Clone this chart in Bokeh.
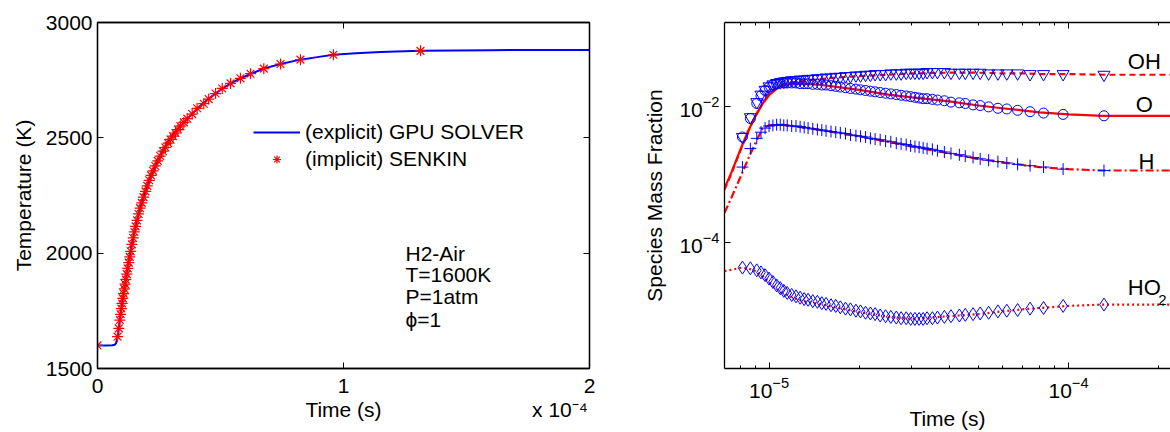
import numpy as np
from bokeh.plotting import figure
from bokeh.layouts import row
from bokeh.models import (Range1d, FixedTicker, LinearAxis, LogAxis, Label,
                          Legend, LegendItem)
from bokeh.embed import file_html
from bokeh.resources import INLINE

FONT = "Liberation Sans"
RED = "#ff0000"
BLUE = "#0000ff"

# ---------------------------------------------------------------------------
# H2-air ignition, T0 = 1600 K, P = 1 atm, phi = 1
# ---------------------------------------------------------------------------

# Temperature history from the explicit GPU solver
gpu_time_s = [0.0, 2e-6, 4e-6, 6e-6, 7e-6, 7.5e-6, 8e-6, 8.5e-6, 9e-6, 9.35e-6,
              1.0e-5, 1.07e-5, 1.13e-5, 1.2e-5, 1.3e-5, 1.41e-5, 1.54e-5, 1.67e-5,
              1.85e-5, 2.03e-5, 2.24e-5, 2.44e-5, 2.64e-5, 2.84e-5, 3.1e-5, 3.37e-5,
              3.65e-5, 3.9e-5, 4.2e-5, 4.47e-5, 4.8e-5, 5.12e-5, 5.45e-5, 5.81e-5,
              6.3e-5, 6.75e-5, 7.44e-5, 8.25e-5, 9.0e-5, 9.59e-5, 1.05e-4, 1.15e-4,
              1.313e-4, 1.45e-4, 1.6e-4, 1.8e-4, 2.0e-4]
gpu_temp_K = [1600, 1600, 1600, 1601, 1603, 1609, 1628, 1662, 1703, 1733,
              1782, 1832, 1873, 1915, 1978, 2044, 2112, 2170,
              2240, 2297, 2352, 2398, 2442, 2481, 2520, 2551,
              2582, 2610, 2640, 2665, 2692, 2716, 2738, 2758,
              2780, 2800, 2820, 2839, 2851, 2860, 2867, 2872,
              2877, 2879, 2880, 2881, 2881]

# SENKIN output times (shared by the temperature and species markers)
senkin_time_s = [0.0, 8.15e-6, 8.66e-6, 9.10e-6, 9.40e-6, 9.70e-6, 1.00e-5, 1.03e-5,
                 1.06e-5, 1.09e-5, 1.12e-5, 1.15e-5, 1.19e-5, 1.23e-5, 1.27e-5,
                 1.31e-5, 1.35e-5, 1.40e-5, 1.45e-5, 1.50e-5, 1.55e-5, 1.61e-5,
                 1.67e-5, 1.73e-5, 1.80e-5, 1.87e-5, 1.95e-5, 2.02e-5, 2.10e-5,
                 2.18e-5, 2.26e-5, 2.35e-5, 2.45e-5, 2.55e-5, 2.66e-5, 2.76e-5,
                 2.87e-5, 2.97e-5, 3.07e-5, 3.17e-5, 3.27e-5, 3.37e-5, 3.51e-5,
                 3.65e-5, 3.85e-5, 4.05e-5, 4.32e-5, 4.52e-5, 4.80e-5, 5.07e-5,
                 5.41e-5, 5.81e-5, 6.22e-5, 6.76e-5, 7.44e-5, 8.25e-5, 9.59e-5,
                 1.313e-4]
senkin_temp_K = [1600, 1638, 1674, 1710, 1735, 1760, 1782, 1804,
                 1825, 1845, 1866, 1886, 1909, 1934, 1959,
                 1984, 2008, 2038, 2066, 2092, 2116, 2142,
                 2170, 2195, 2218, 2243, 2268, 2292, 2316,
                 2337, 2357, 2378, 2400, 2421, 2442, 2458,
                 2477, 2493, 2507, 2521, 2536, 2551, 2567,
                 2583, 2603, 2628, 2648, 2668, 2692, 2714,
                 2736, 2758, 2778, 2800, 2820, 2839, 2860,
                 2877]

# Species mass fractions, stored as log10(Y)
# continuous curves
species_time_s = [7.1e-6, 7.5e-6, 8.0e-6, 8.5e-6, 9.0e-6, 9.5e-6, 1.0e-5, 1.05e-5,
                  1.1e-5, 1.2e-5, 1.3e-5, 1.5e-5, 1.7e-5, 2.0e-5, 2.5e-5, 3.0e-5,
                  4.0e-5, 5.0e-5, 6.0e-5, 7.0e-5, 8.0e-5, 1.0e-4, 1.3e-4, 1.6e-4,
                  2.0e-4, 2.2e-4]
oh_curve = [-3.22, -2.98, -2.66, -2.38, -2.14, -1.96, -1.82, -1.74, -1.69, -1.65,
            -1.63, -1.60, -1.58, -1.56, -1.54, -1.52, -1.51, -1.51, -1.52, -1.52,
            -1.53, -1.53, -1.54, -1.54, -1.54, -1.54]
o_curve = [-3.20, -2.96, -2.65, -2.37, -2.15, -1.97, -1.84, -1.76, -1.70, -1.67,
           -1.67, -1.69, -1.72, -1.76, -1.83, -1.87, -1.93, -1.99, -2.03, -2.06,
           -2.09, -2.12, -2.14, -2.14, -2.14, -2.14]
h_curve = [-3.56, -3.33, -3.05, -2.78, -2.54, -2.33, -2.28, -2.27, -2.27, -2.29,
           -2.31, -2.35, -2.39, -2.44, -2.52, -2.59, -2.69, -2.77, -2.82, -2.86,
           -2.89, -2.92, -2.94, -2.94, -2.94, -2.94]
ho2_curve = [-4.41, -4.39, -4.365, -4.37, -4.41, -4.48, -4.57, -4.66, -4.72, -4.80,
             -4.85, -4.90, -4.95, -5.01, -5.08, -5.11, -5.07, -5.04, -5.00, -4.97,
             -4.95, -4.92, -4.90, -4.90, -4.90, -4.90]

# values at the SENKIN output times (all but t = 0)
oh_points = [-2.45, -2.16, -1.94, -1.83, -1.76, -1.71, -1.68, -1.66, -1.65, -1.64,
             -1.63, -1.62, -1.62, -1.61, -1.61, -1.60, -1.60, -1.59, -1.59, -1.58,
             -1.58, -1.57, -1.57, -1.56, -1.56, -1.55, -1.55, -1.54, -1.54, -1.53,
             -1.53, -1.53, -1.52, -1.52, -1.52, -1.51, -1.51, -1.51, -1.51, -1.51,
             -1.50, -1.50, -1.50, -1.50, -1.51, -1.51, -1.51, -1.51, -1.51, -1.52,
             -1.52, -1.52, -1.52, -1.53, -1.53, -1.53, -1.54]
o_points = [-2.45, -2.18, -1.96, -1.85, -1.77, -1.72, -1.69, -1.67, -1.66, -1.66,
            -1.66, -1.66, -1.66, -1.67, -1.67, -1.67, -1.68, -1.68, -1.69, -1.69,
            -1.70, -1.71, -1.72, -1.73, -1.74, -1.75, -1.76, -1.77, -1.78, -1.79,
            -1.80, -1.81, -1.82, -1.83, -1.84, -1.85, -1.86, -1.87, -1.88, -1.89,
            -1.89, -1.90, -1.91, -1.92, -1.94, -1.95, -1.96, -1.98, -1.99, -2.01,
            -2.03, -2.04, -2.06, -2.08, -2.10, -2.12, -2.14]
h_points = [-2.89, -2.62, -2.47, -2.38, -2.32, -2.29, -2.28, -2.27, -2.27, -2.28,
            -2.28, -2.29, -2.29, -2.30, -2.31, -2.32, -2.33, -2.34, -2.35, -2.36,
            -2.37, -2.38, -2.39, -2.40, -2.42, -2.43, -2.44, -2.45, -2.47, -2.48,
            -2.49, -2.51, -2.52, -2.54, -2.55, -2.56, -2.58, -2.59, -2.60, -2.61,
            -2.62, -2.63, -2.65, -2.67, -2.69, -2.71, -2.73, -2.75, -2.77, -2.79,
            -2.81, -2.83, -2.85, -2.87, -2.89, -2.92, -2.94]
ho2_points = [-4.36, -4.37, -4.40, -4.43, -4.47, -4.52, -4.57, -4.62, -4.66, -4.70,
              -4.73, -4.76, -4.78, -4.80, -4.82, -4.83, -4.85, -4.86, -4.88, -4.89,
              -4.91, -4.92, -4.94, -4.96, -4.97, -4.99, -5.00, -5.02, -5.03, -5.04,
              -5.06, -5.07, -5.08, -5.09, -5.10, -5.10, -5.11, -5.11, -5.11, -5.11,
              -5.10, -5.10, -5.09, -5.08, -5.07, -5.06, -5.05, -5.04, -5.03, -5.02,
              -5.00, -4.99, -4.98, -4.96, -4.95, -4.92, -4.90]

temp_ticks = [1500, 2000, 2500, 3000]
time_ticks_e4 = [0, 1, 2]
log_time_ticks = [1e-5, 1e-4]
log_time_minor = [8e-6, 9e-6, 2e-5, 3e-5, 4e-5, 5e-5, 6e-5, 7e-5, 8e-5, 9e-5, 2e-4]
log_frac_ticks = [1e-4, 1e-2]

TICK_FS = "21px"
LABEL_FS = "21px"


def style_axis(ax):
    ax.axis_line_color = "black"
    ax.axis_line_width = 1.3
    ax.major_tick_line_color = "black"
    ax.major_tick_line_width = 1
    ax.minor_tick_line_color = "black"
    ax.minor_tick_line_width = 1
    ax.major_tick_in = 6
    ax.major_tick_out = 0
    ax.minor_tick_in = 3
    ax.minor_tick_out = 0
    ax.major_label_text_font = FONT
    ax.major_label_text_font_size = TICK_FS
    ax.major_label_text_color = "black"
    ax.axis_label_text_font = FONT
    ax.axis_label_text_font_size = LABEL_FS
    ax.axis_label_text_font_style = "normal"
    ax.axis_label_text_color = "black"


def tick_only(ax):
    # mirrored box axis: ticks only, labels are not painted
    ax.major_label_text_font_size = "6px"
    ax.major_label_text_color = None
    ax.major_label_standoff = 0


# ---------------------------------------------------------------- temperature
t_gpu = np.array(gpu_time_s) * 1e4
t_sen = np.array(senkin_time_s) * 1e4

left = figure(width=640, height=432, x_range=Range1d(0, 2), y_range=Range1d(1500, 3000),
              output_backend="svg", toolbar_location=None,
              min_border_left=97, min_border_right=51, min_border_top=21,
              min_border_bottom=57)
left.xgrid.visible = False
left.ygrid.visible = False
left.outline_line_color = "black"
left.outline_line_width = 1.3
left.background_fill_color = "white"
left.border_fill_color = "white"

left.xaxis.ticker = FixedTicker(ticks=time_ticks_e4)
left.yaxis.ticker = FixedTicker(ticks=temp_ticks)
for ax in left.xaxis + left.yaxis:
    style_axis(ax)
left.yaxis.axis_label = "Temperature (K)"
left.xaxis.major_label_standoff = 10
left.yaxis.major_label_standoff = 5
left.yaxis.axis_label_standoff = 8

# second row under the time axis: its title and the x 10^-4 multiplier
caption_axis = LinearAxis(ticker=FixedTicker(ticks=[1.0, 1.88]),
                          major_label_overrides={1.0: "Time (s)",
                                                 1.88: "x 10\u207b\u2074"})
style_axis(caption_axis)
caption_axis.axis_line_color = None
caption_axis.major_tick_line_color = None
caption_axis.major_tick_in = 0
caption_axis.major_label_standoff = 2
left.add_layout(caption_axis, "below")

top_l = LinearAxis(ticker=FixedTicker(ticks=time_ticks_e4))
right_l = LinearAxis(ticker=FixedTicker(ticks=temp_ticks))
for ax in (top_l, right_l):
    style_axis(ax)
    tick_only(ax)
left.add_layout(top_l, "above")
left.add_layout(right_l, "right")

gpu_r = left.line(t_gpu, gpu_temp_K, line_color=BLUE, line_width=2)
sen_r = left.scatter(t_sen, senkin_temp_K, marker="asterisk", size=11,
                     line_color=RED, line_width=1.2)

legend = Legend(items=[LegendItem(label="(explicit) GPU SOLVER", renderers=[gpu_r]),
                       LegendItem(label="(implicit) SENKIN", renderers=[sen_r])],
                location=(156, 197), border_line_color=None, background_fill_alpha=0,
                label_text_font=FONT, label_text_font_size="21px",
                label_text_color="black",
                glyph_width=47, glyph_height=20, label_height=20,
                padding=0, margin=0, spacing=3, label_standoff=5)
left.add_layout(legend)

conditions = ["H2-Air", "T=1600K", "P=1atm", "\u03d5=1"]
cond_y = [1997, 1908, 1811, 1713]
for txt, yy in zip(conditions, cond_y):
    left.add_layout(Label(x=1.252, y=yy, text=txt, text_font=FONT,
                          text_font_size="21px", text_baseline="middle",
                          text_align="left", text_color="black"))

# -------------------------------------------------------------------- species
right = figure(width=530, height=432, x_axis_type="log", y_axis_type="log",
               x_range=Range1d(7.1e-6, 2.19e-4),
               y_range=Range1d(10 ** -5.835, 10 ** -0.776),
               output_backend="svg", toolbar_location=None,
               min_border_left=79, min_border_right=0, min_border_top=22,
               min_border_bottom=60)
right.xgrid.visible = False
right.ygrid.visible = False
right.outline_line_color = None
right.background_fill_color = "white"
right.border_fill_color = "white"

right.xaxis.ticker = FixedTicker(ticks=log_time_ticks, minor_ticks=log_time_minor)
right.yaxis.ticker = FixedTicker(ticks=log_frac_ticks)
for ax in right.xaxis + right.yaxis:
    style_axis(ax)
right.xaxis.axis_label = "Time (s)"
right.yaxis.axis_label = "Species Mass Fraction"
right.xaxis.major_label_standoff = 8
right.yaxis.major_label_standoff = 5
right.xaxis.axis_label_standoff = 6
right.yaxis.axis_label_standoff = 10

top_r = LogAxis(ticker=FixedTicker(ticks=log_time_ticks, minor_ticks=log_time_minor))
style_axis(top_r)
tick_only(top_r)
right.add_layout(top_r, "above")

t_line = np.array(species_time_s)
t_pts = np.array(senkin_time_s[1:])

curves = [(oh_curve, "6 4"), (o_curve, "solid"), (h_curve, "8 3 2 3"), (ho2_curve, "2 3")]
for vals, dash in curves:
    right.line(t_line, np.power(10.0, vals), line_color=RED, line_width=2.2,
               line_dash=dash)

points = [(oh_points, "inverted_triangle", 12), (o_points, "circle", 10),
          (h_points, "cross", 12), (ho2_points, "diamond", 13)]
for vals, marker, size in points:
    right.scatter(t_pts, np.power(10.0, vals), marker=marker, size=size,
                  line_color=BLUE, fill_color=None, line_width=1)

species_labels = [("OH", 1.578e-4, -1.342, "22px"), ("O", 1.675e-4, -1.971, "22px"),
                  ("H", 1.714e-4, -2.809, "22px"), ("HO", 1.578e-4, -4.65, "22px"),
                  ("2", 1.995e-4, -4.838, "15px")]
for txt, xx, ly, fs in species_labels:
    right.add_layout(Label(x=xx, y=10 ** ly, text=txt, text_font=FONT,
                           text_font_size=fs, text_baseline="middle",
                           text_align="left", text_color="black"))

layout = row(left, right)
open("out.html", "w").write(file_html(layout, INLINE))
